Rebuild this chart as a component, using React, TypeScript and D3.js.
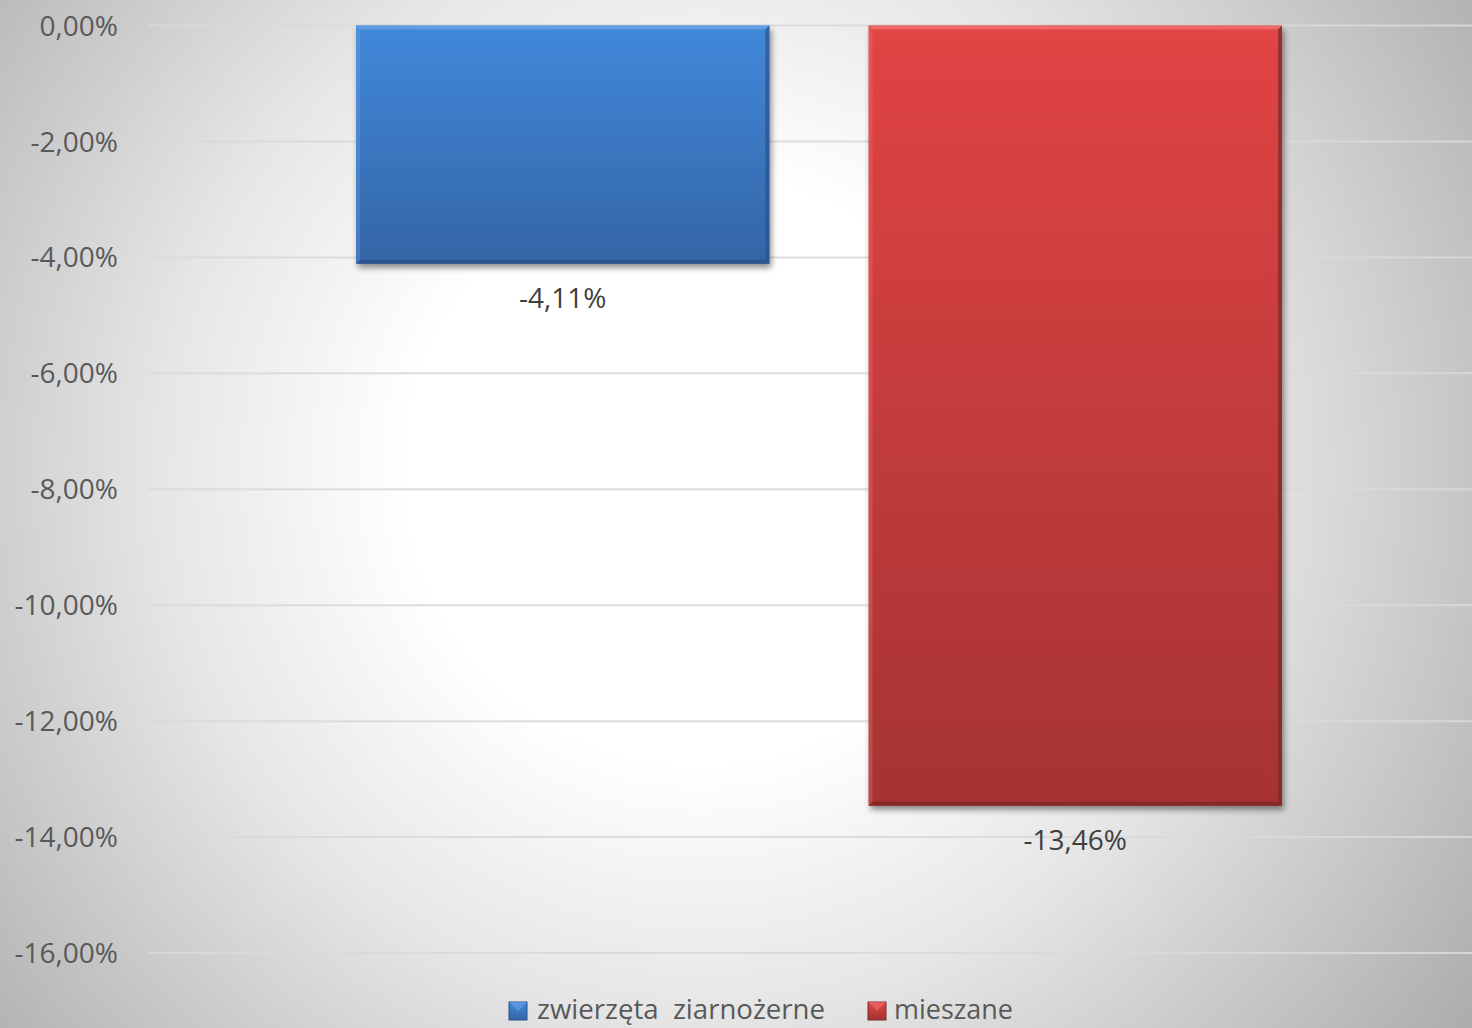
import React from "react";
import * as d3 from "d3";

const seriesNames = ["zwierzęta  ziarnożerne", "mieszane"];
const seriesValues = [-4.11, -13.46];
const valueLabels = ["-4,11%", "-13,46%"];
const tickValues = [0, -2, -4, -6, -8, -10, -12, -14, -16];
const tickLabels = ["0,00%", "-2,00%", "-4,00%", "-6,00%", "-8,00%", "-10,00%", "-12,00%", "-14,00%", "-16,00%"];

const W = 1472;
const H = 1028;
const FONT = "'Open Sans', 'Liberation Sans', sans-serif";

const colors = [
  { top: "#4188da", bottom: "#3465a6", light: "#6aa3e6", dark: "#2a518a" },
  { top: "#e24444", bottom: "#a53333", light: "#f07070", dark: "#7e2626" },
];

export default function App() {
  const plotLeft = 149;
  const plotRight = 1488;
  const y = d3.scaleLinear().domain([0, -16]).range([25.5, 953]);
  const x = d3.scaleBand().domain(seriesNames).range([plotLeft + 207, plotRight - 206]).paddingInner(0.1935);

  const legend = [
    { sx: 509, tx: 537, len: 288 },
    { sx: 868, tx: 894, len: 119 },
  ];

  return (
    <svg width={W} height={H} style={{ display: "block", position: "absolute", left: 0, top: 0 }}>
      <defs>
        <radialGradient id="bg" gradientUnits="userSpaceOnUse" cx={700} cy={470} r={980}>
          <stop offset="0" stopColor="#ffffff" />
          <stop offset="0.3" stopColor="#ffffff" />
          <stop offset="0.55" stopColor="#e6e6e6" />
          <stop offset="1" stopColor="#a8a8a8" />
        </radialGradient>
        {colors.map((c, i) => (
          <linearGradient key={i} id={`g${i}`} x1="0" y1="0" x2="0" y2="1">
            <stop offset="0" stopColor={c.top} />
            <stop offset="1" stopColor={c.bottom} />
          </linearGradient>
        ))}
        <filter id="shadow" x="-10%" y="-10%" width="120%" height="120%">
          <feGaussianBlur in="SourceAlpha" stdDeviation="3" />
          <feOffset dx="2" dy="4" result="b" />
          <feComponentTransfer>
            <feFuncA type="linear" slope="0.45" />
          </feComponentTransfer>
          <feMerge>
            <feMergeNode />
            <feMergeNode in="SourceGraphic" />
          </feMerge>
        </filter>
      </defs>
      <rect x={0} y={0} width={W} height={H} fill="url(#bg)" />
      {tickValues.map((t) => (
        <line key={t} x1={plotLeft} x2={plotRight} y1={y(t)} y2={y(t)} stroke="#d9d9d9" strokeWidth={2} strokeOpacity={0.9} />
      ))}
      {tickValues.map((t, i) => (
        <text key={t} x={118} y={y(t)} dy="0.36em" textAnchor="end" fontFamily={FONT} fontSize={28} fill="#595959">
          {tickLabels[i]}
        </text>
      ))}
      {seriesNames.map((s, i) => {
        const x0 = x(s)!;
        const bw = x.bandwidth();
        const y0 = y(0);
        const y1 = y(seriesValues[i]);
        const c = colors[i];
        const b = 4;
        return (
          <g key={s}>
            <rect x={x0} y={y0} width={bw} height={y1 - y0} fill={`url(#g${i})`} filter="url(#shadow)" />
            <polygon points={`${x0},${y0} ${x0 + bw},${y0} ${x0 + bw - b},${y0 + b} ${x0 + b},${y0 + b}`} fill={c.light} opacity={0.8} />
            <polygon points={`${x0 + bw},${y0} ${x0 + bw},${y1} ${x0 + bw - b},${y1 - b} ${x0 + bw - b},${y0 + b}`} fill={c.dark} opacity={0.7} />
            <polygon points={`${x0},${y1} ${x0 + bw},${y1} ${x0 + bw - b},${y1 - b} ${x0 + b},${y1 - b}`} fill={c.dark} opacity={0.75} />
            <polygon points={`${x0},${y0} ${x0 + b},${y0 + b} ${x0 + b},${y1 - b} ${x0},${y1}`} fill={c.light} opacity={0.35} />
            <text x={x0 + bw / 2} y={y1 + 44} textAnchor="middle" fontFamily={FONT} fontSize={28} fill="#404040">
              {valueLabels[i]}
            </text>
          </g>
        );
      })}
      <g>
        {legend.map((p, i) => (
          <g key={i}>
            <rect x={p.sx} y={1002} width={18} height={18} fill={`url(#g${i})`} stroke={colors[i].dark} strokeWidth={1} />
            <polygon points={`${p.sx},${1002} ${p.sx + 18},${1002} ${p.sx + 9},${1011}`} fill={colors[i].light} opacity={0.6} />
            <text x={p.tx} y={1019} fontFamily={FONT} fontSize={26.5} fill="#595959" textLength={p.len} lengthAdjust="spacingAndGlyphs" style={{ whiteSpace: "pre" }}>
              {seriesNames[i]}
            </text>
          </g>
        ))}
      </g>
    </svg>
  );
}
